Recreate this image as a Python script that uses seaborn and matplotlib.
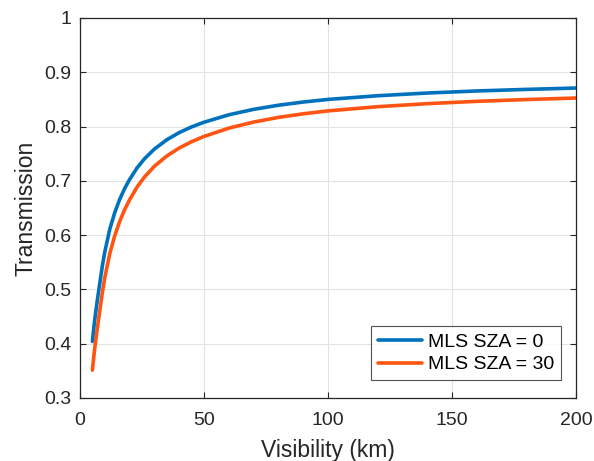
import matplotlib
matplotlib.use("Agg")
import matplotlib.pyplot as plt
import pandas as pd
import seaborn as sns

# Visibility (km) and transmission for the two solar zenith angles
visibility = [5, 5.5, 6, 7, 8, 9, 10, 12, 14, 16, 18, 20, 23, 26, 30, 35, 40, 45,
              50, 60, 70, 80, 90, 100, 120, 140, 160, 180, 200]
trans_sza0 = [0.4042, 0.4264, 0.4463, 0.4807, 0.5119, 0.5429, 0.5691, 0.6108,
              0.6414, 0.6659, 0.6858, 0.7025, 0.7238, 0.7407, 0.7586, 0.7757,
              0.7889, 0.7994, 0.8080, 0.8217, 0.8317, 0.8393, 0.8452, 0.8500,
              0.8568, 0.8618, 0.8656, 0.8685, 0.8710]
trans_sza30 = [0.3514, 0.3737, 0.3939, 0.4292, 0.4615, 0.4940, 0.5216, 0.5659,
               0.5988, 0.6253, 0.6470, 0.6652, 0.6885, 0.7071, 0.7269, 0.7458,
               0.7605, 0.7722, 0.7818, 0.7971, 0.8083, 0.8169, 0.8235, 0.8289,
               0.8366, 0.8422, 0.8465, 0.8498, 0.8526]
series_names = ["MLS SZA = 0", "MLS SZA = 30"]
x_ticks = [0, 50, 100, 150, 200]
y_ticks = [0.3, 0.4, 0.5, 0.6, 0.7, 0.8, 0.9, 1.0]
y_tick_labels = ["0.3", "0.4", "0.5", "0.6", "0.7", "0.8", "0.9", "1"]

df = pd.concat([
    pd.DataFrame({"Visibility": visibility, "Transmission": trans_sza0, "Case": series_names[0]}),
    pd.DataFrame({"Visibility": visibility, "Transmission": trans_sza30, "Case": series_names[1]}),
], ignore_index=True)

sns.set_theme(style="white")
plt.rcParams["font.family"] = ["Liberation Sans", "DejaVu Sans"]

fig = plt.figure(figsize=(5.94, 4.61), dpi=100)
ax = fig.add_axes([80 / 594, 1 - 398 / 461, 496 / 594, 380 / 461])

palette = {series_names[0]: "#0072BD", series_names[1]: "#FF5412"}
sns.lineplot(data=df, x="Visibility", y="Transmission", hue="Case",
             palette=palette, linewidth=2.6, ax=ax, sort=False)

ax.set_xlim(0, 200)
ax.set_ylim(0.3, 1.0)
ax.set_xticks(x_ticks)
ax.set_yticks(y_ticks)
ax.set_yticklabels(y_tick_labels)

dark = "#262626"
ax.grid(True, color="#E3E3E3", linewidth=0.8)
ax.set_axisbelow(True)
for s in ax.spines.values():
    s.set_visible(True)
    s.set_color(dark)
    s.set_linewidth(0.9)
ax.tick_params(axis="both", which="major", direction="in", length=4, width=0.8,
               colors=dark, labelsize=14, top=True, right=True,
               bottom=True, left=True)
ax.tick_params(axis="x", pad=10)
ax.tick_params(axis="y", pad=6)

ax.set_xlabel("Visibility (km)", fontsize=16.5, color=dark, labelpad=7)
ax.set_ylabel("Transmission", fontsize=16.5, color=dark, labelpad=5)

leg = ax.legend(loc="lower right", bbox_to_anchor=(0.970, 0.047), borderaxespad=0,
                fontsize=14, frameon=True, fancybox=False, handlelength=2.3,
                handletextpad=0.3, labelspacing=0.25, borderpad=0.35,
                title=None)
leg.get_frame().set_edgecolor(dark)
leg.get_frame().set_linewidth(0.8)
for t in leg.get_texts():
    t.set_color("black")

fig.savefig("out.png", dpi=100)
